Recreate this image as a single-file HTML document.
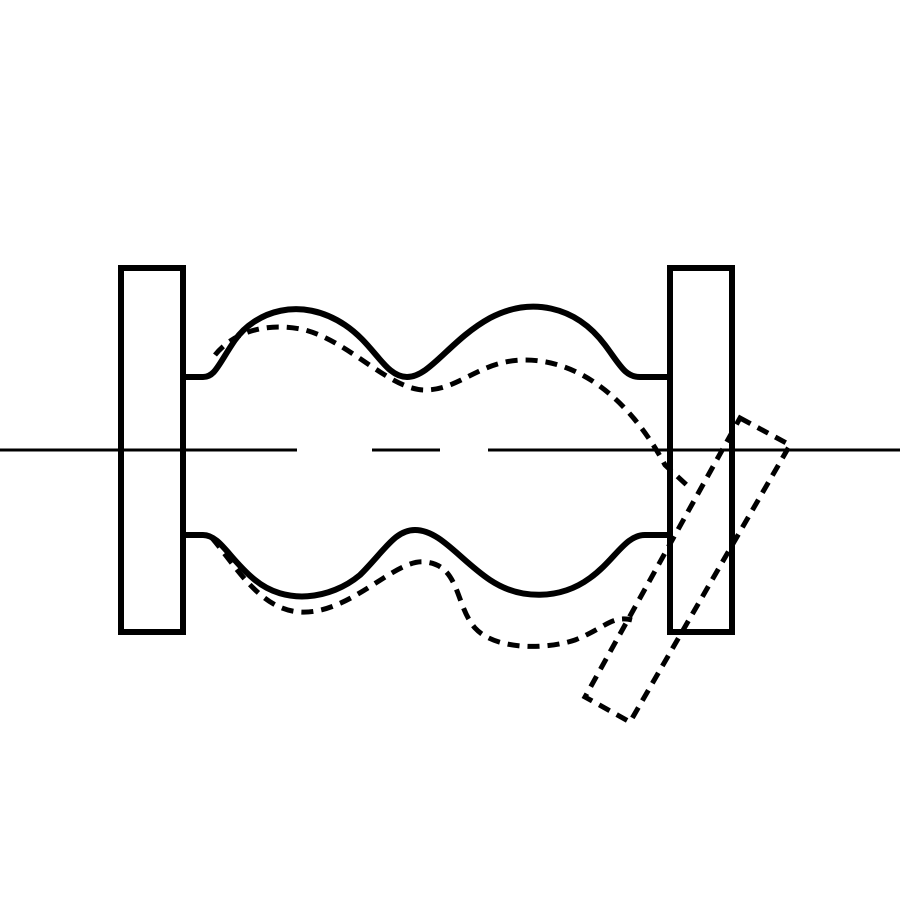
<!DOCTYPE html>
<html><head><meta charset="utf-8"><style>html,body{margin:0;padding:0;background:#fff}svg{display:block}</style></head>
<body>
<svg width="900" height="900" viewBox="0 0 900 900" xmlns="http://www.w3.org/2000/svg">
<rect width="900" height="900" fill="#fff"/>
<g stroke="#000" stroke-width="3" fill="none">
<line x1="0" y1="450" x2="297" y2="450"/>
<line x1="372" y1="450" x2="440" y2="450"/>
<line x1="488" y1="450" x2="900" y2="450"/>
</g>
<g stroke="#000" stroke-width="6" fill="none" stroke-linejoin="miter">
<rect x="121" y="268" width="62" height="364"/>
<rect x="670" y="268" width="62" height="364"/>
</g>
<g stroke="#000" stroke-width="6" fill="none" stroke-linejoin="round">
<path d="M183,377 L203,377 C215,377 218,365 235,340 C255,312 300,295 345,325 C375,345 385,377 407,377 C430,377 450,340 490,318 C530,297 575,305 605,345 C620,365 625,377 640,377 L670,377"/>
<path d="M183,535 L203,535 C220,535 230,560 255,580 C285,605 330,600 360,575 C385,550 395,530 415,530 C440,530 460,560 490,580 C520,600 560,600 590,578 C615,560 625,535 645,535 L670,535"/>
</g>
<g stroke="#000" stroke-width="5" fill="none" stroke-dasharray="12,8">
<path d="M215,355 C235,330 270,322 305,330 C350,342 390,390 425,390 C460,390 480,360 525,360 C580,360 630,400 665,465 L690,488"/>
<path d="M212,538 C235,565 260,610 300,612 C350,615 395,558 425,562 C460,565 455,605 475,628 C495,650 545,650 575,640 C605,628 612,615 632,620"/>
<polygon points="740,418 790,445 630,722 585,697"/>
</g>
</svg>
</body></html>
